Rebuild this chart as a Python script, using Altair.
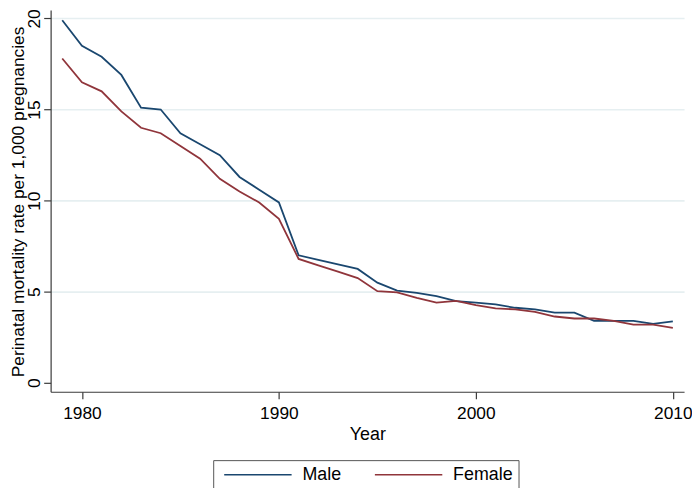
import altair as alt
import pandas as pd

years = list(range(1979, 2011))
male = [19.9, 18.5, 17.9, 16.9, 15.1, 15.0, 13.7, 13.1, 12.5, 11.3, 10.6, 9.9,
        7.0, 6.75, 6.5, 6.25, 5.5, 5.06, 4.94, 4.76, 4.49, 4.4, 4.3, 4.12,
        4.03, 3.85, 3.85, 3.4, 3.4, 3.4, 3.23, 3.37]
female = [17.8, 16.5, 16.0, 14.9, 14.0, 13.7, 13.0, 12.3, 11.2, 10.5, 9.9, 9.0,
          6.8, 6.45, 6.1, 5.75, 5.03, 4.96, 4.66, 4.4, 4.5, 4.27, 4.09, 4.03,
          3.9, 3.64, 3.53, 3.53, 3.4, 3.19, 3.19, 3.01]
series = ["Male", "Female"]
colors = ["#1a476f", "#90353b"]
x_ticks = [1980, 1990, 2000, 2010]
y_ticks = [0, 5, 10, 15, 20]

rows = []
for name, vals in zip(series, [male, female]):
    for yr, v in zip(years, vals):
        rows.append({"year": yr, "rate": v, "sex": name})
df = pd.DataFrame(rows)

FONT = "Liberation Sans"
AX = "#3a3a3a"

chart = alt.Chart(df).mark_line(strokeWidth=1.8).encode(
    x=alt.X("year:Q",
            scale=alt.Scale(domain=[1978.41, 2010.57], nice=False, zero=False),
            axis=alt.Axis(values=x_ticks, format="d", title="Year", grid=False,
                          tickSize=7, labelPadding=6, titlePadding=4,
                          labelFontSize=17.5, titleFontSize=18,
                          titleFontWeight="normal")),
    y=alt.Y("rate:Q",
            scale=alt.Scale(domain=[-0.49, 20.46], nice=False, zero=False),
            axis=alt.Axis(values=y_ticks, title="Perinatal mortality rate per 1,000 pregnancies",
                          grid=True, gridColor="#e6eff1", gridWidth=1.6,
                          gridOpacity=alt.condition("datum.value === 0", alt.value(0), alt.value(1)),
                          tickSize=7, labelAngle=270, labelAlign="center",
                          labelBaseline="middle", labelPadding=9.5,
                          labelFontSize=17.5, titleFontSize=17.5,
                          titleFontWeight="normal", titleX=-27, titleY=193,
                          titleBaseline="alphabetic", titleAngle=270)),
    color=alt.Color("sex:N",
                    scale=alt.Scale(domain=series, range=colors),
                    legend=alt.Legend(title=None, orient="none", legendX=164, legendY=454,
                                      direction="horizontal",
                                      symbolType="M-0.4,0H7.6",
                                      symbolSize=289, symbolStrokeWidth=1.5,
                                      labelFontSize=18, labelOffset=66, columnPadding=27,
                                      padding=5, strokeColor="#555555",
                                      labelFont=FONT)),
).properties(
    width=639,
    height=385,
    autosize=alt.AutoSizeParams(type="none"),
    padding={"left": 43, "top": 0, "right": 8, "bottom": 95},
).configure_view(
    stroke=None
).configure_axis(
    labelFont=FONT, titleFont=FONT, labelColor="#000000", titleColor="#000000",
    domainColor=AX, tickColor=AX, domainWidth=1.2, tickWidth=1.2,
)

chart.save("out.html", embed_options={"renderer": "svg", "actions": False})
